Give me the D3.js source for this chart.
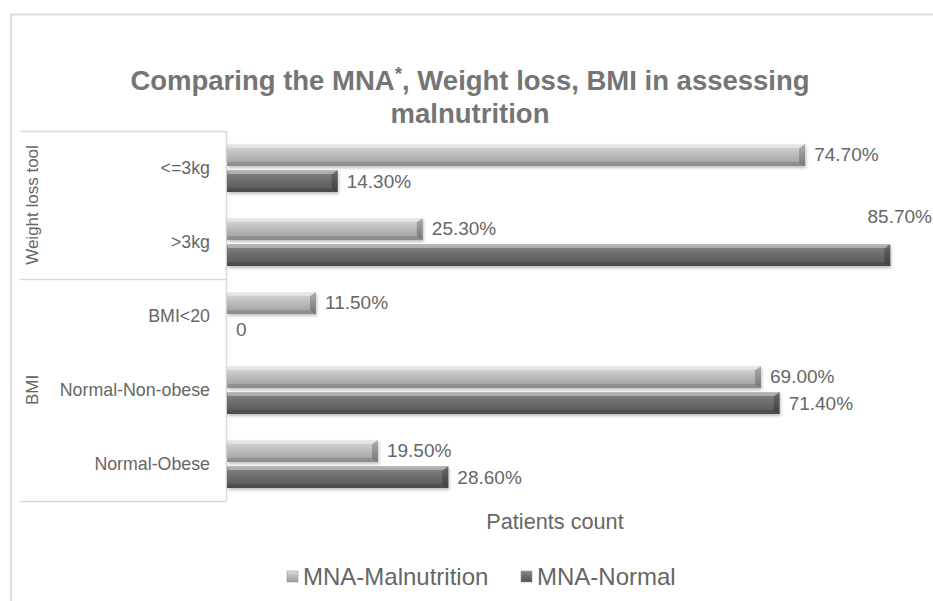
<!DOCTYPE html>
<html>
<head>
<meta charset="utf-8">
<script src="https://cdn.jsdelivr.net/npm/d3@7"></script>
<style>
  body { margin: 0; background: #fff; }
  svg text { font-family: 'Liberation Sans', Arial, sans-serif; }
</style>
</head>
<body>
<svg class="barViz" width="933" height="601"></svg>
<script>
// chart data
const groups = ['Weight loss tool', 'BMI'];
const categories = ['<=3kg', '>3kg', 'BMI<20', 'Normal-Non-obese', 'Normal-Obese'];
const categoryGroup = ['Weight loss tool', 'Weight loss tool', 'BMI', 'BMI', 'BMI'];
const series = ['MNA-Malnutrition', 'MNA-Normal'];
const malnutritionValues = [74.7, 25.3, 11.5, 69.0, 19.5];
const normalValues = [14.3, 85.7, 0, 71.4, 28.6];

function draw(){
  const svg = d3.select('svg.barViz');

  const plot = { left: 227, top: 131, bottom: 501, right: 933 };

  // outer chart border (runs off the picture)
  svg.append('rect')
     .attr('x', 11).attr('y', 14.5)
     .attr('width', 1000).attr('height', 1000)
     .style('fill', 'none')
     .style('stroke', '#dcdcdc')
     .style('stroke-width', 2);

  // gradients
  const defs = svg.append('defs');
  const grads = {
    'MNA-Malnutrition': [['0%', '#e0e0e0'], ['35%', '#c4c4c4'], ['100%', '#9c9c9c']],
    'MNA-Normal': [['0%', '#8e8e8e'], ['35%', '#727272'], ['100%', '#555555']]
  };
  series.forEach((s, i) => {
    const g = defs.append('linearGradient')
                  .attr('id', 'grad' + i)
                  .attr('x1', 0).attr('y1', 0).attr('x2', 0).attr('y2', 1);
    grads[s].forEach(st => g.append('stop').attr('offset', st[0]).attr('stop-color', st[1]));
  });
  const shadow = defs.append('filter').attr('id', 'shadow')
                     .attr('x', '-5%').attr('y', '-20%').attr('width', '110%').attr('height', '160%');
  shadow.append('feDropShadow')
        .attr('dx', 1).attr('dy', 2).attr('stdDeviation', 1.5)
        .attr('flood-color', '#000').attr('flood-opacity', 0.25);

  // title
  const title = svg.append('text')
     .attr('x', 470).attr('y', 90)
     .style('text-anchor', 'middle')
     .style('font-size', '27.5px')
     .style('font-weight', 'bold')
     .style('fill', '#757575');
  title.append('tspan').text('Comparing the MNA');
  title.append('tspan').text('*').attr('dy', -10).style('font-size', '19px');
  title.append('tspan').text(', Weight loss, BMI in assessing').attr('dy', 10);
  svg.append('text')
     .attr('x', 470).attr('y', 123)
     .style('text-anchor', 'middle')
     .style('font-size', '27.5px')
     .style('font-weight', 'bold')
     .style('fill', '#757575')
     .text('malnutrition');

  // scales
  const x = d3.scaleLinear().domain([0, 100]).range([plot.left, plot.left + 774]);
  const y0 = d3.scaleBand().domain(categories).range([plot.top, plot.bottom]);
  const y1 = d3.scaleBand().domain(series).range([13, y0.bandwidth() - 13]).paddingInner(0.16);
  const color = d3.scaleOrdinal().domain(series).range(['url(#grad0)', 'url(#grad1)']);

  const rows = categories.map((c, i) => ({
    cat: c,
    group: categoryGroup[i],
    values: [
      { cat: c, series: series[0], value: malnutritionValues[i] },
      { cat: c, series: series[1], value: normalValues[i] }
    ]
  }));
  const bars = rows.flatMap(r => r.values);

  // group table on the left
  const lineCol = '#d9d9d9';
  const groupExtent = groups.map(g => {
    const cs = categories.filter((c, i) => categoryGroup[i] == g);
    return { name: g, y0: y0(cs[0]), y1: y0(cs[cs.length - 1]) + y0.bandwidth() };
  });
  const bounds = [plot.top].concat(groupExtent.map(d => d.y1));
  svg.selectAll('line.grpLine')
     .data(bounds)
     .enter()
     .append('line')
     .attr('class', 'grpLine')
     .attr('x1', 20).attr('x2', plot.left)
     .attr('y1', d => Math.round(d) + 0.5).attr('y2', d => Math.round(d) + 0.5)
     .style('stroke', lineCol).style('stroke-width', 1.5);
  svg.append('line')
     .attr('x1', plot.left - 0.5).attr('x2', plot.left - 0.5)
     .attr('y1', plot.top).attr('y2', plot.bottom)
     .style('stroke', lineCol).style('stroke-width', 1.5);

  svg.selectAll('text.grpLabel')
     .data(groupExtent)
     .enter()
     .append('text')
     .attr('class', 'grpLabel')
     .attr('transform', d => `translate(38, ${(d.y0 + d.y1) / 2}) rotate(-90)`)
     .style('text-anchor', 'middle')
     .style('font-size', '17px')
     .style('fill', '#666')
     .text(d => d.name);

  svg.selectAll('text.catLabel')
     .data(categories)
     .enter()
     .append('text')
     .attr('class', 'catLabel')
     .attr('x', 210)
     .attr('y', d => y0(d) + y0.bandwidth() / 2 + 6)
     .style('text-anchor', 'end')
     .style('font-size', '17.8px')
     .style('fill', '#666')
     .text(d => d);

  // bars with bevel
  const b = 4;
  const barG = svg.selectAll('g.bar')
     .data(bars.filter(d => d.value > 0))
     .enter()
     .append('g')
     .attr('class', 'bar')
     .attr('transform', d => `translate(0, ${y0(d.cat) + y1(d.series)})`);
  const h = y1.bandwidth();
  barG.append('rect')
      .attr('x', x(0)).attr('y', 0)
      .attr('width', d => x(d.value) - x(0))
      .attr('height', h)
      .style('fill', d => color(d.series))
      .style('filter', 'url(#shadow)');
  barG.append('path')
      .attr('d', d => `M${x(0)},0 L${x(d.value)},0 L${x(d.value) - b},${b} L${x(0) + 1},${b} Z`)
      .style('fill', '#fff').style('fill-opacity', 0.35);
  barG.append('path')
      .attr('d', d => `M${x(0)},${h} L${x(d.value)},${h} L${x(d.value) - b},${h - b} L${x(0) + 1},${h - b} Z`)
      .style('fill', '#000').style('fill-opacity', 0.12);
  barG.append('path')
      .attr('d', d => `M${x(d.value) - b - 2},${b} L${x(d.value)},0 L${x(d.value)},${h} L${x(d.value) - b - 2},${h - b} Z`)
      .style('fill', '#000').style('fill-opacity', 0.22);

  // value labels
  const fits = d => x(d.value) + 75 <= plot.right;
  svg.selectAll('text.valLabel')
     .data(bars)
     .enter()
     .append('text')
     .attr('class', 'valLabel')
     .attr('x', d => fits(d) ? x(d.value) + 9 : plot.right - 1)
     .attr('y', d => {
        const yc = y0(d.cat) + y1(d.series) + h / 2 + 6.5;
        return fits(d) ? yc : yc - 39;
     })
     .style('text-anchor', d => fits(d) ? 'start' : 'end')
     .style('font-size', '19px')
     .style('fill', '#666')
     .text(d => d.value == 0 ? '0' : d.value.toFixed(2) + '%');

  // axis title
  svg.append('text')
     .attr('x', 555).attr('y', 529)
     .style('text-anchor', 'middle')
     .style('font-size', '21.7px')
     .style('fill', '#666')
     .text('Patients count');

  // legend
  const legend = svg.selectAll('g.legend')
     .data(series)
     .enter()
     .append('g')
     .attr('class', 'legend')
     .attr('transform', (d, i) => `translate(${[287, 521][i]}, 576)`);
  legend.append('rect')
     .attr('x', 0).attr('y', -5)
     .attr('width', 11).attr('height', 11)
     .style('fill', d => color(d))
     .style('stroke', '#8a8a8a').style('stroke-width', 0.5);
  legend.append('text')
     .attr('x', 16).attr('y', 8.5)
     .style('font-size', '24px')
     .style('fill', '#666')
     .text(d => d);
}

draw();
</script>
</body>
</html>
